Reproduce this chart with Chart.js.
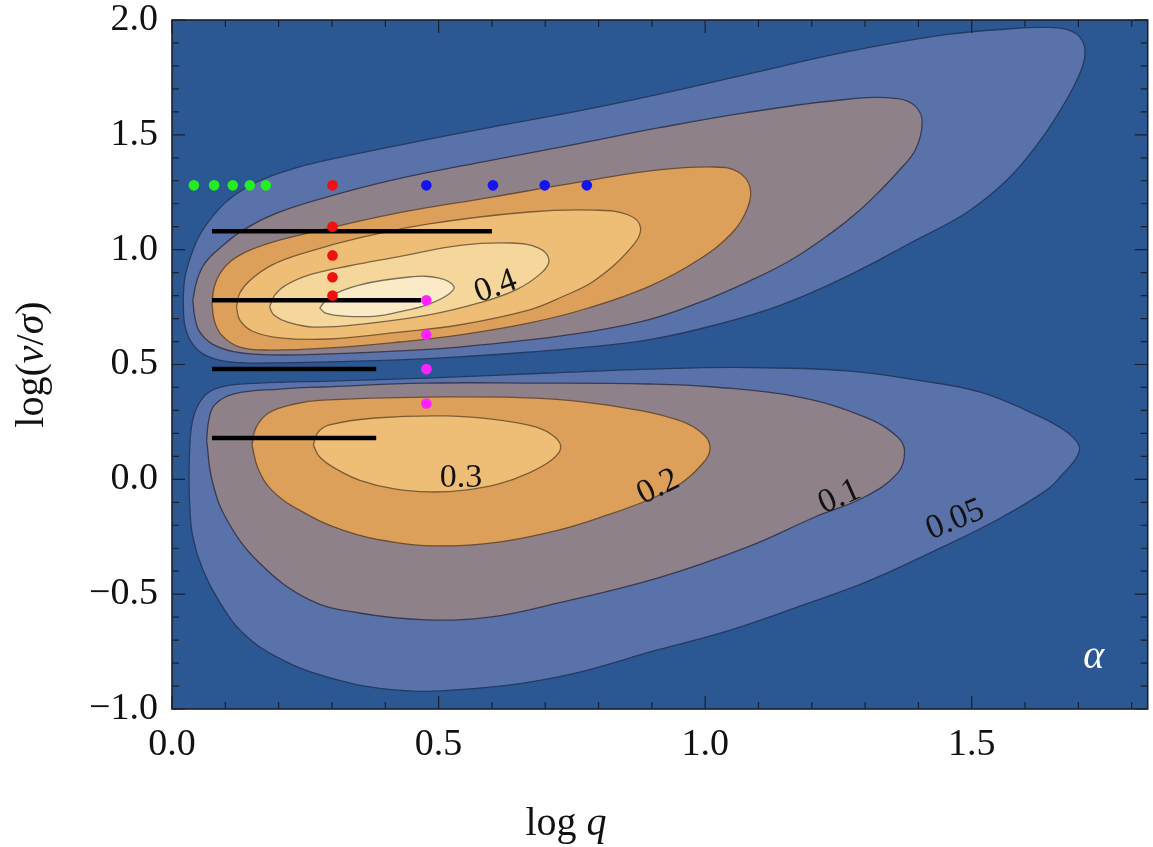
<!DOCTYPE html>
<html>
<head>
<meta charset="utf-8">
<script src="https://cdn.jsdelivr.net/npm/chart.js@4.4.1/dist/chart.umd.min.js"></script>
<style>
  html, body { margin: 0; padding: 0; background: #ffffff; }
  #wrap { width: 1153px; height: 847px; }
</style>
</head>
<body>
<div id="wrap"><canvas id="contourChart" width="1153" height="847"></canvas></div>
<script>
// Contour outlines as [log q, log(v/sigma)] pairs, traced from the left nose
const top005 = [[0.021,0.781],[0.024,0.877],[0.036,0.977],[0.052,1.064],[0.075,1.142],[0.108,1.221],[0.164,1.300],[0.239,1.361],[0.290,1.390],[0.445,1.464],[0.600,1.534],[0.763,1.604],[0.912,1.676],[1.080,1.764],[1.267,1.862],[1.454,1.937],[1.579,1.963],[1.632,1.968],[1.682,1.956],[1.707,1.912],[1.712,1.838],[1.697,1.738],[1.664,1.599],[1.622,1.455],[1.566,1.303],[1.492,1.164],[1.385,1.029],[1.267,0.885],[1.142,0.759],[1.019,0.672],[0.893,0.607],[0.763,0.572],[0.669,0.554],[0.538,0.533],[0.426,0.520],[0.295,0.511],[0.183,0.507],[0.108,0.511],[0.062,0.541],[0.037,0.594],[0.024,0.672],[0.021,0.781]];
const top010 = [[0.039,0.781],[0.047,0.868],[0.062,0.942],[0.090,1.007],[0.133,1.085],[0.196,1.159],[0.290,1.229],[0.413,1.303],[0.600,1.390],[0.763,1.462],[0.912,1.530],[1.080,1.598],[1.267,1.655],[1.361,1.658],[1.394,1.625],[1.407,1.556],[1.394,1.434],[1.361,1.338],[1.329,1.259],[1.286,1.164],[1.236,1.072],[1.161,0.955],[1.080,0.860],[0.987,0.768],[0.893,0.694],[0.781,0.642],[0.669,0.607],[0.538,0.576],[0.426,0.559],[0.295,0.546],[0.183,0.542],[0.118,0.555],[0.075,0.590],[0.052,0.642],[0.043,0.703],[0.039,0.781]];
const top020 = [[0.075,0.766],[0.079,0.837],[0.090,0.897],[0.110,0.950],[0.146,0.998],[0.196,1.038],[0.267,1.079],[0.413,1.155],[0.600,1.229],[0.763,1.294],[0.912,1.347],[1.019,1.360],[1.062,1.338],[1.084,1.273],[1.080,1.185],[1.052,1.077],[0.987,0.955],[0.893,0.838],[0.781,0.746],[0.669,0.680],[0.538,0.628],[0.426,0.598],[0.295,0.572],[0.183,0.563],[0.127,0.576],[0.093,0.628],[0.079,0.694],[0.075,0.766]];
const top030 = [[0.121,0.750],[0.127,0.810],[0.146,0.866],[0.188,0.934],[0.258,0.993],[0.340,1.045],[0.482,1.112],[0.669,1.164],[0.794,1.172],[0.856,1.151],[0.879,1.094],[0.862,1.011],[0.794,0.868],[0.731,0.794],[0.669,0.737],[0.538,0.672],[0.426,0.641],[0.295,0.611],[0.202,0.616],[0.150,0.646],[0.127,0.694],[0.121,0.750]];
const top040 = [[0.183,0.750],[0.192,0.800],[0.214,0.846],[0.262,0.893],[0.333,0.930],[0.421,0.968],[0.544,1.020],[0.637,1.029],[0.688,1.007],[0.707,0.955],[0.693,0.899],[0.645,0.825],[0.576,0.768],[0.482,0.716],[0.357,0.676],[0.267,0.663],[0.217,0.685],[0.191,0.716],[0.183,0.750]];
const top045 = [[0.277,0.746],[0.295,0.794],[0.351,0.846],[0.445,0.881],[0.501,0.876],[0.529,0.837],[0.514,0.798],[0.477,0.759],[0.426,0.729],[0.383,0.711],[0.323,0.711],[0.288,0.724],[0.277,0.746]];

const bottom005 = [[0.032,0.019],[0.033,0.128],[0.037,0.236],[0.047,0.315],[0.067,0.376],[0.099,0.406],[0.164,0.419],[0.295,0.428],[0.477,0.441],[0.707,0.463],[0.893,0.480],[1.080,0.487],[1.267,0.472],[1.398,0.432],[1.516,0.380],[1.609,0.293],[1.673,0.215],[1.701,0.149],[1.697,0.097],[1.669,0.019],[1.641,-0.046],[1.548,-0.176],[1.422,-0.320],[1.299,-0.450],[1.174,-0.555],[1.049,-0.655],[0.912,-0.742],[0.725,-0.860],[0.538,-0.916],[0.413,-0.916],[0.290,-0.860],[0.196,-0.773],[0.133,-0.669],[0.090,-0.538],[0.058,-0.395],[0.039,-0.251],[0.033,-0.103],[0.032,0.019]];
const bottom010 = [[0.065,0.171],[0.069,0.258],[0.080,0.324],[0.116,0.372],[0.202,0.393],[0.282,0.402],[0.475,0.419],[0.682,0.419],[0.893,0.415],[1.017,0.402],[1.174,0.359],[1.299,0.272],[1.361,0.184],[1.374,0.119],[1.361,0.027],[1.299,-0.077],[1.206,-0.164],[1.080,-0.294],[0.912,-0.429],[0.725,-0.538],[0.600,-0.599],[0.477,-0.612],[0.351,-0.582],[0.258,-0.525],[0.164,-0.364],[0.103,-0.177],[0.075,-0.003],[0.065,0.171]];
const bottom020 = [[0.150,0.149],[0.157,0.223],[0.181,0.289],[0.230,0.328],[0.282,0.345],[0.475,0.358],[0.682,0.354],[0.817,0.323],[0.950,0.258],[0.998,0.193],[1.009,0.128],[0.991,0.058],[0.950,-0.025],[0.893,-0.090],[0.817,-0.155],[0.725,-0.221],[0.613,-0.273],[0.501,-0.290],[0.415,-0.273],[0.320,-0.221],[0.239,-0.134],[0.187,-0.047],[0.161,0.049],[0.150,0.149]];
const bottom030 = [[0.265,0.149],[0.273,0.202],[0.295,0.237],[0.381,0.267],[0.516,0.276],[0.615,0.258],[0.682,0.228],[0.718,0.184],[0.729,0.136],[0.712,0.084],[0.669,0.027],[0.613,-0.020],[0.550,-0.047],[0.482,-0.055],[0.417,-0.042],[0.351,-0.003],[0.305,0.049],[0.277,0.097],[0.265,0.149]];

// Model points
const greenX = [0.041, 0.079, 0.114, 0.146, 0.176];
const greenY = [1.28, 1.28, 1.28, 1.28, 1.28];
const redX = [0.301, 0.301, 0.301, 0.301, 0.301];
const redY = [1.28, 1.10, 0.975, 0.88, 0.80];
const blueX = [0.477, 0.602, 0.699, 0.778];
const blueY = [1.28, 1.28, 1.28, 1.28];
const magentaX = [0.477, 0.477, 0.477, 0.477];
const magentaY = [0.78, 0.63, 0.48, 0.33];

// Horizontal bars: level, start, end
const barY = [1.08, 0.78, 0.48, 0.18];
const barStart = [0.075, 0.075, 0.075, 0.075];
const barEnd = [0.60, 0.467, 0.383, 0.383];

// Contour labels
const contourLabels = ['0.4', '0.3', '0.2', '0.1', '0.05'];
const labelX = [0.607, 0.542, 0.912, 1.252, 1.469];
const labelY = [0.838, 0.006, -0.034, -0.077, -0.177];

// Axis ticks
const xTickValues = [0, 0.5, 1.0, 1.5];
const yTickValues = [-1.0, -0.5, 0, 0.5, 1.0, 1.5, 2.0];

const labelAngle = [-20, 0, -26, -24, -22];
const serif = '"Liberation Serif", "Times New Roman", serif';

const bandColors = {
  bg: '#2b5892',
  '0.05': '#5a72aa',
  '0.1': '#8e8189',
  '0.2': '#dca05a',
  '0.3': '#eebe76',
  '0.4': '#f5d79b',
  '0.45': '#faebc6'
};
const edgeColors = {
  '0.05': '#243a63',
  '0.1': '#383a52',
  '0.2': '#6a4e36',
  '0.3': '#7c5c34',
  '0.4': '#7d6444',
  '0.45': '#7d6c54'
};

const contours = [
  [top005, '0.05'], [bottom005, '0.05'],
  [top010, '0.1'], [bottom010, '0.1'],
  [top020, '0.2'], [bottom020, '0.2'],
  [top030, '0.3'], [bottom030, '0.3'],
  [top040, '0.4'],
  [top045, '0.45']
];

function toPoints(xs, ys) {
  return xs.map((x, i) => ({x: x, y: ys[i]}));
}

const datasets = [];
contours.forEach(([pts, level], i) => {
  datasets.push({
    data: pts.map(([x, y]) => ({x, y})),
    showLine: true,
    fill: 'shape',
    tension: 0.4,
    backgroundColor: bandColors[level],
    borderColor: edgeColors[level],
    borderWidth: 1.3,
    pointRadius: 0,
    pointHoverRadius: 0,
    order: 50 - i
  });
});

barY.forEach((yv, i) => {
  datasets.push({
    data: [{x: barStart[i], y: yv}, {x: barEnd[i], y: yv}],
    showLine: true,
    borderColor: '#000000',
    borderWidth: 4.5,
    borderCapStyle: 'butt',
    pointRadius: 0,
    pointHoverRadius: 0,
    order: 5
  });
});

[[greenX, greenY, '#22ee22'], [redX, redY, '#ee1111'], [blueX, blueY, '#1414ee'], [magentaX, magentaY, '#ff22ff']]
  .forEach(([xs, ys, col]) => {
    datasets.push({
      data: toPoints(xs, ys),
      showLine: false,
      backgroundColor: col,
      borderWidth: 0,
      pointRadius: 5.3,
      pointHoverRadius: 5.3,
      order: 1
    });
  });

function fmtTick(v) {
  return v < 0 ? '\u2212' + Math.abs(v).toFixed(1) : v.toFixed(1);
}

// draw text made of upright and italic runs, centred on 0,0
function drawRuns(ctx, runs, size) {
  let total = 0;
  runs.forEach(r => {
    ctx.font = (r.it ? 'italic ' : '') + size + 'px ' + serif;
    r.w = ctx.measureText(r.t).width;
    total += r.w;
  });
  let x = -total / 2;
  runs.forEach(r => {
    ctx.font = (r.it ? 'italic ' : '') + size + 'px ' + serif;
    ctx.fillText(r.t, x, 0);
    x += r.w;
  });
}

const decorations = {
  id: 'decorations',
  beforeDatasetsDraw(chart) {
    const {ctx, chartArea: a} = chart;
    ctx.save();
    ctx.fillStyle = bandColors.bg;
    ctx.fillRect(a.left, a.top, a.right - a.left, a.bottom - a.top);
    ctx.restore();
  },
  afterDatasetsDraw(chart) {
    const {ctx, scales: {x, y}} = chart;
    ctx.save();
    ctx.font = '34px ' + serif;
    ctx.fillStyle = '#121212';
    ctx.textAlign = 'center';
    ctx.textBaseline = 'middle';
    contourLabels.forEach((t, i) => {
      ctx.save();
      ctx.translate(x.getPixelForValue(labelX[i]), y.getPixelForValue(labelY[i]));
      ctx.rotate(labelAngle[i] * Math.PI / 180);
      ctx.fillText(t, 0, 0);
      ctx.restore();
    });
    ctx.restore();
  },
  afterDraw(chart) {
    const {ctx, chartArea: a, scales: {x, y}} = chart;
    ctx.save();
    // inward ticks on all four sides
    ctx.strokeStyle = '#1b1f2a';
    ctx.lineWidth = 1.2;
    ctx.beginPath();
    for (let i = 0; i <= 18; i++) {
      const px = x.getPixelForValue(i / 10);
      const len = i % 5 === 0 ? 13 : 7;
      ctx.moveTo(px, a.bottom); ctx.lineTo(px, a.bottom - len);
      ctx.moveTo(px, a.top); ctx.lineTo(px, a.top + len);
    }
    for (let i = -10; i <= 20; i++) {
      const py = y.getPixelForValue(i / 10);
      const len = i % 5 === 0 ? 13 : 7;
      ctx.moveTo(a.left, py); ctx.lineTo(a.left + len, py);
      ctx.moveTo(a.right, py); ctx.lineTo(a.right - len, py);
    }
    ctx.stroke();
    ctx.lineWidth = 1.6;
    ctx.strokeRect(a.left, a.top, a.right - a.left, a.bottom - a.top);

    // axis titles
    ctx.fillStyle = '#111111';
    ctx.textBaseline = 'alphabetic';
    ctx.save();
    ctx.translate(566, 835);
    drawRuns(ctx, [{t: 'log ', it: false}, {t: 'q', it: true}], 40);
    ctx.restore();

    ctx.save();
    ctx.translate(43, (a.top + a.bottom) / 2);
    ctx.rotate(-Math.PI / 2);
    drawRuns(ctx, [{t: 'log(', it: false}, {t: 'v', it: true}, {t: '/', it: false}, {t: '\u03c3', it: true}, {t: ')', it: false}], 40);
    ctx.restore();

    // panel tag
    ctx.fillStyle = '#ffffff';
    ctx.font = 'italic 40px ' + serif;
    ctx.textAlign = 'center';
    ctx.textBaseline = 'middle';
    ctx.fillText('\u03b1', x.getPixelForValue(1.729), y.getPixelForValue(-0.774));
    ctx.restore();
  }
};

const ctx = document.getElementById('contourChart').getContext('2d');
const contourChart = new Chart(ctx, {
  type: 'scatter',
  data: { datasets: datasets },
  options: {
    responsive: false,
    animation: false,
    devicePixelRatio: 1,
    events: [],
    layout: { padding: { top: 20, right: 2, left: 0, bottom: 0 } },
    plugins: {
      legend: { display: false },
      tooltip: { enabled: false },
      filler: { propagate: false }
    },
    scales: {
      x: {
        type: 'linear',
        min: 0,
        max: 1.83,
        grid: { display: false, drawTicks: false },
        border: { display: false },
        ticks: {
          font: { family: serif, size: 38 },
          color: '#111111',
          padding: 13,
          maxRotation: 0,
          callback: fmtTick
        },
        afterBuildTicks: s => { s.ticks = xTickValues.map(v => ({value: v})); },
        afterFit: s => { s.height = 138; s.paddingLeft = 0; s.paddingRight = 0; }
      },
      y: {
        type: 'linear',
        min: -1,
        max: 2,
        grid: { display: false, drawTicks: false },
        border: { display: false },
        ticks: {
          font: { family: serif, size: 38 },
          color: '#111111',
          padding: 14,
          callback: fmtTick
        },
        afterBuildTicks: s => { s.ticks = yTickValues.map(v => ({value: v})); },
        afterFit: s => { s.width = 172; s.paddingTop = 0; s.paddingBottom = 0; }
      }
    }
  },
  plugins: [decorations]
});
</script>
</body>
</html>
